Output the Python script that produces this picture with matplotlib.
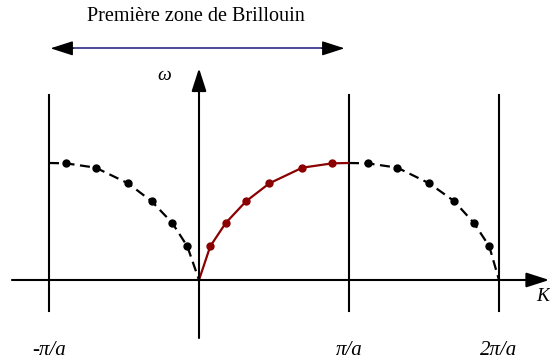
import matplotlib
matplotlib.use("Agg")
import matplotlib.pyplot as plt
from matplotlib.patches import ArrowStyle

# k in units of pi/a, omega normalised to the plateau
k_red = [0, 0.075, 0.178, 0.313, 0.469, 0.689, 0.889, 1.0]
w_red = [0, 0.288, 0.487, 0.672, 0.826, 0.96, 0.997, 1.0]

k_left = [-1.0, -0.887, -0.689, -0.473, -0.315, -0.178, -0.078, 0]
w_left = [1.0, 0.997, 0.96, 0.826, 0.672, 0.487, 0.288, 0]

k_right = [1.0, 1.125, 1.322, 1.535, 1.70, 1.833, 1.935, 2.0]
w_right = [1.0, 0.997, 0.96, 0.826, 0.675, 0.487, 0.288, 0]

zone_k = [-1, 1, 2]
tick_labels = ["-\u03c0/a", "\u03c0/a", "2\u03c0/a"]

fig = plt.figure(figsize=(5.5, 3.62), dpi=100)
ax = fig.add_axes([0, 0, 1, 1])
ax.set_xlim(-1.3267, 2.34)
ax.set_ylim(-0.7009, 2.393)
ax.axis("off")

serif = "Liberation Serif"
head = ArrowStyle("-|>", head_length=1.4, head_width=0.45)

# axes with arrows
ax.annotate("", xy=(2.335, 0), xytext=(-1.247, 0), annotation_clip=False,
            arrowprops=dict(arrowstyle=head, color="black", lw=1.5,
                            shrinkA=0, shrinkB=0))
ax.annotate("", xy=(0, 1.81), xytext=(0, -0.496), annotation_clip=False,
            arrowprops=dict(arrowstyle=head, color="black", lw=1.5,
                            shrinkA=0, shrinkB=0))

# zone boundaries
for k in zone_k:
    ax.plot([k, k], [-0.265, 1.58], color="black", lw=1.5)

# curves
ax.plot(k_red, w_red, color="#8b0000", lw=1.6, marker="o", ms=5,
        markevery=list(range(1, len(k_red) - 1)))
ax.plot(k_left, w_left, color="black", lw=1.6, ls=(0, (4.5, 2.5)),
        marker="o", ms=5, markevery=list(range(1, len(k_left) - 1)))
ax.plot(k_right, w_right, color="black", lw=1.6, ls=(0, (4.5, 2.5)),
        marker="o", ms=5, markevery=list(range(1, len(k_right) - 1)))

# Brillouin zone arrow
ax.plot([-0.88, 0.85], [1.98, 1.98], color="#3b3b8f", lw=1.3)
ax.annotate("", xy=(-0.99, 1.98), xytext=(-0.84, 1.98),
            arrowprops=dict(arrowstyle=head, color="black", lw=1.0,
                            shrinkA=0, shrinkB=0))
ax.annotate("", xy=(0.97, 1.98), xytext=(0.82, 1.98),
            arrowprops=dict(arrowstyle=head, color="black", lw=1.0,
                            shrinkA=0, shrinkB=0))
ax.text(-0.02, 2.25, "Première zone de Brillouin", family=serif,
        fontsize=14.5, ha="center", va="center")

# labels
ax.text(-0.233, 1.75, "\u03c9", family=serif, style="italic",
        fontsize=14, ha="center", va="center")
ax.text(2.25, -0.145, "K", family=serif, style="italic",
        fontsize=14, ha="left", va="center")
for k, lab in zip(zone_k, tick_labels):
    ax.text(k, -0.6, lab, family=serif, style="italic",
            fontsize=15, ha="center", va="center")

fig.savefig("out.png", dpi=100)
